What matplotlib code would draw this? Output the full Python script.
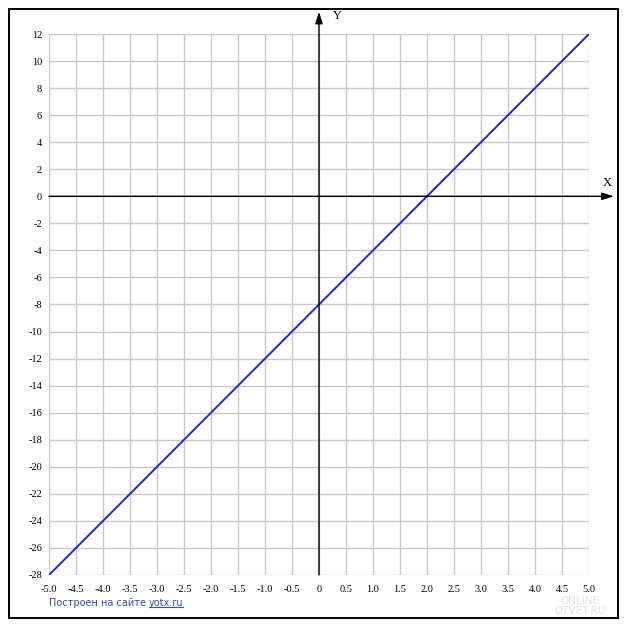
import matplotlib
matplotlib.use('Agg')
import matplotlib.pyplot as plt
from matplotlib.patches import Rectangle
from matplotlib.lines import Line2D

# --- Data: y = 4x - 8 ---
line_x = [-5.0, 5.0]
line_y = [-28.0, 12.0]

x_ticks = [-5.0, -4.5, -4.0, -3.5, -3.0, -2.5, -2.0, -1.5, -1.0, -0.5,
           0.0, 0.5, 1.0, 1.5, 2.0, 2.5, 3.0, 3.5, 4.0, 4.5, 5.0]
x_labels = ['-5.0', '-4.5', '-4.0', '-3.5', '-3.0', '-2.5', '-2.0', '-1.5', '-1.0', '-0.5',
            '0', '0.5', '1.0', '1.5', '2.0', '2.5', '3.0', '3.5', '4.0', '4.5', '5.0']
y_ticks = [12, 10, 8, 6, 4, 2, 0, -2, -4, -6, -8, -10, -12, -14, -16, -18,
           -20, -22, -24, -26, -28]
y_labels = [str(v) for v in y_ticks]

W, H = 627, 630
fig = plt.figure(figsize=(W / 100, H / 100), dpi=100)

# outer frame
fig.patches.append(Rectangle((9 / W, 1 - 618 / H), 609 / W, 609 / H,
                             transform=fig.transFigure, fill=False,
                             edgecolor='black', linewidth=1.4))

ax = fig.add_axes([49 / W, 1 - 575 / H, 540 / W, 541 / H])
ax.set_xlim(-5, 5)
ax.set_ylim(-28, 12)
for s in ax.spines.values():
    s.set_visible(False)

serif = 'Liberation Serif'
ax.set_xticks(x_ticks)
ax.set_xticklabels(x_labels, fontsize=7.5, family=serif)
ax.set_yticks(y_ticks)
ax.set_yticklabels(y_labels, fontsize=7.5, family=serif)
ax.tick_params(length=0, pad=5)
ax.tick_params(axis='x', pad=7)
ax.grid(True, color='#c8c8c8', linewidth=1.0)
ax.set_axisbelow(True)

# axes with arrows
ax.annotate('', xy=(5.46, 0), xytext=(-5, 0), annotation_clip=False,
            arrowprops=dict(arrowstyle='-|>,head_length=0.7,head_width=0.22',
                            color='black', lw=1.0, shrinkA=0, shrinkB=0))
ax.annotate('', xy=(0, 13.65), xytext=(0, -28), annotation_clip=False,
            arrowprops=dict(arrowstyle='-|>,head_length=0.7,head_width=0.22',
                            color='black', lw=1.0, shrinkA=0, shrinkB=0))
ax.text(0.25, 13.3, 'Y', fontsize=9, family=serif, ha='left', va='center', clip_on=False)
ax.text(5.33, 1.0, 'X', fontsize=9, family=serif, ha='center', va='center', clip_on=False)

# the function
ax.plot(line_x, line_y, color='#2222dd', linewidth=1.4)

# footer credit
t1 = fig.text(49 / W, 1 - 603 / H, 'Построен на сайте ', fontsize=7,
              color='#3b4f9c', ha='left', va='center', family='DejaVu Sans')
fig.canvas.draw()
r = fig.canvas.get_renderer()
bb = t1.get_window_extent(r)
t2 = fig.text(bb.x1 / W, 1 - 603 / H, 'yotx.ru', fontsize=7,
              color='#3b4f9c', ha='left', va='center', family='DejaVu Sans')
fig.canvas.draw()
bb2 = t2.get_window_extent(r)
fig.lines.append(Line2D([bb2.x0 / W, (bb2.x1 - 1) / W], [(bb2.y0 + 1.5) / H, (bb2.y0 + 1.5) / H],
                        transform=fig.transFigure, color='#3b4f9c', linewidth=0.8))

# faint watermark
fig.text(580 / W, 1 - 601 / H, 'ONLINE', fontsize=7.5, color='#e2e2e2',
         ha='center', va='center', family='DejaVu Sans')
fig.text(580 / W, 1 - 611 / H, 'OTVET.RU', fontsize=7.5, color='#e2e2e2',
         ha='center', va='center', family='DejaVu Sans')

fig.savefig('out.png', dpi=100)
